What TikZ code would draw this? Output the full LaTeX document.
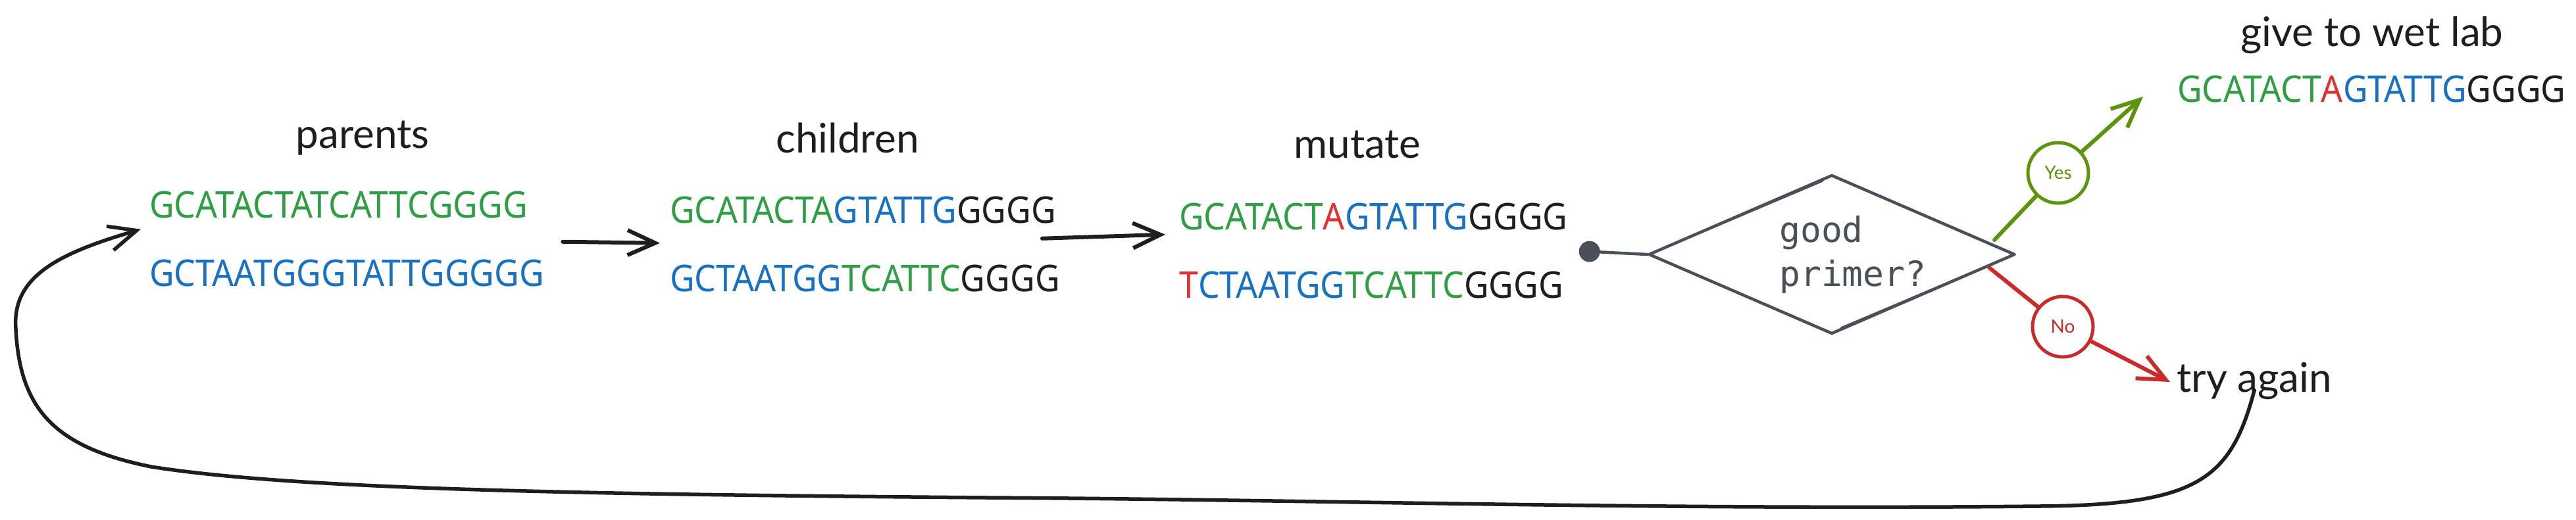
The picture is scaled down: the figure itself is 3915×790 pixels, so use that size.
\documentclass[tikz,border=0pt]{standalone}
\usepackage{fontspec}
\setmainfont{Lato}
\newfontfamily\seqfont[FakeStretch=0.925]{Noto Sans}
\newfontfamily\handfont{Lato}
\newfontfamily\qfont{DejaVu Sans Mono}
\usetikzlibrary{arrows.meta,shapes.geometric,calc}
\definecolor{seqgreen}{HTML}{2F9E44}
\definecolor{seqblue}{HTML}{1971C2}
\definecolor{seqred}{HTML}{E03131}
\definecolor{ink}{HTML}{1E1E1E}
\definecolor{slate}{HTML}{495057}
\definecolor{yesgreen}{HTML}{5C940D}
\definecolor{nored}{HTML}{C92A2A}
\newcommand\seqG[1]{\textcolor{seqgreen}{#1}}
\newcommand\seqB[1]{\textcolor{seqblue}{#1}}
\newcommand\seqR[1]{\textcolor{seqred}{#1}}
\newcommand\seqK[1]{\textcolor{ink}{#1}}
\begin{document}
\begin{tikzpicture}[x=1pt,y=-1pt,
  seqrows/.style={font=\seqfont\fontsize{56}{104}\selectfont, align=left, inner sep=0pt, anchor=north west},
  seqline/.style={font=\seqfont\fontsize{56}{56}\selectfont, inner sep=0pt, anchor=base west},
  hand/.style={font=\handfont\fontsize{62}{62}\selectfont, text=ink, inner sep=0pt, anchor=base},
  inkline/.style={draw=ink, line width=6pt, line cap=round, line join=round},
  openarrow/.style={-{Straight Barb[length=42pt,width=38pt]}},
  decision/.style={diamond, draw=slate, line width=4.5pt, line join=round, minimum width=557pt, minimum height=242pt, inner sep=0pt},
  qtext/.style={font=\qfont\fontsize{53}{67}\selectfont, text=slate, align=left, inner sep=0pt, anchor=north west},
  answer/.style={circle, line width=5pt, minimum size=92pt, inner sep=0pt, font=\handfont\fontsize{28}{28}\selectfont},
  yesline/.style={draw=yesgreen, line width=6pt, line cap=round, line join=round},
  noline/.style={draw=nored, line width=6pt, line cap=round, line join=round}]
\fill[white] (0,0) rectangle (3915,790);
\useasboundingbox (0,0) rectangle (3915,790);

% stage labels
\node[hand] (lpar) at (551,225) {parents};
\node[hand] (lchi) at (1288,232) {children};
\node[hand] (lmut) at (2063,240) {mutate};
\node[hand] (llab) at (3605,70) {give to wet lab};
\node[hand, anchor=base west] (try) at (3308,596) {try again};

% sequences
\node[seqrows] (par) at (227,291) {\seqG{GCATACTATCATTCGGGG}\\\seqB{GCTAATGGGTATTGGGGG}};
\node[seqrows] (chi) at (1018,299) {\seqG{GCATACTA}\seqB{GTATTG}\seqK{GGGG}\\\seqB{GCTAATGG}\seqG{TCATTC}\seqK{GGGG}};
\node[seqrows] (mut) at (1792,309) {\seqG{GCATACT}\seqR{A}\seqB{GTATTG}\seqK{GGGG}\\\seqR{T}\seqB{CTAATGG}\seqG{TCATTC}\seqK{GGGG}};
\node[seqline] (fin) at (3309,155) {\seqG{GCATACT}\seqR{A}\seqB{GTATTG}\seqK{GGGG}};

% decision
\node[decision] (dec) at (2784,387) {};
\node[qtext] (q) at (2704,328) {good\\primer?};
\draw[slate, line width=2pt, line cap=round] ([xshift=4pt]dec.west) -- ([shift={(-14,12)}]dec.north);
\draw[slate, line width=2pt, line cap=round] ([xshift=-4pt]dec.east) -- ([shift={(14,-12)}]dec.south);

% answers
\node[answer, draw=yesgreen, text=yesgreen] (yes) at (3128,263) {Yes};
\node[answer, draw=nored, text=nored] (no) at (3135,497) {No};

\coordinate (yfrom) at (3031,365);
\coordinate (ytip) at (3257,147);
\coordinate (nfrom) at (3023,407);

% connectors
\draw[inkline, openarrow] ([shift={(28,4)}]par.east) -- ([shift={(-15,-2)}]chi.west);
\draw[inkline, openarrow] ([shift={(-27,-9)}]chi.east) -- ([shift={(-21,-25)}]mut.west);
\draw[draw=slate, line width=4.5pt, line cap=round, {Circle[length=32pt]}-] ([xshift=17pt]mut.east) -- (dec.west);
\draw[yesline] (yfrom) -- (yes);
\draw[yesline, openarrow] (yes) -- (ytip);
\draw[noline] (nfrom) -- (no);
\draw[noline, openarrow] (no) -- ([shift={(-10,2)}]try.west);

% loop back
\draw[inkline, line width=5.5pt, openarrow] ([yshift=14pt]try.south)
  .. controls (3390,730) and (3340,768) .. (3100,770)
  .. controls (2500,776) and (2000,760) .. (1500,757)
  .. controls (900,752) and (450,745) .. (230,710)
  .. controls (80,680) and (30,620) .. (24,500)
  .. controls (18,420) and (90,385) .. ([shift={(-13,-15)}]par.west);
\end{tikzpicture}
\end{document}
